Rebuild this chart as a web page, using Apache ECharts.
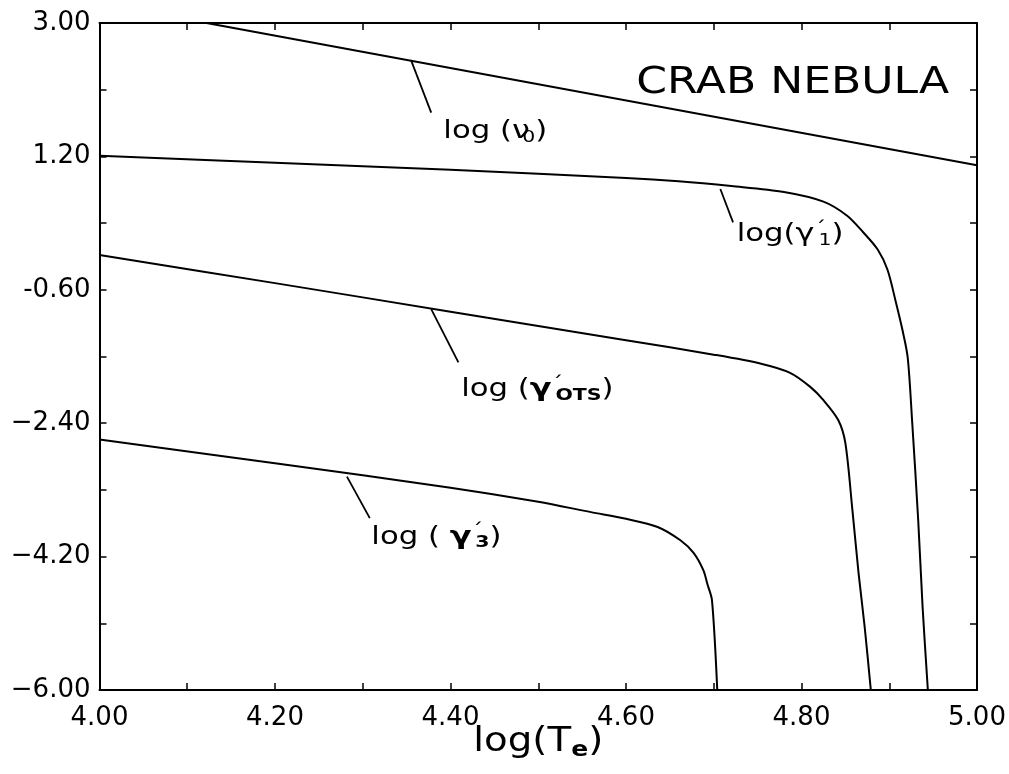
<!DOCTYPE html>
<html>
<head>
<meta charset="utf-8">
<title>Crab Nebula</title>
<script src="https://cdn.jsdelivr.net/npm/echarts@6/dist/echarts.min.js"></script>
<style>
  html, body { margin: 0; padding: 0; background: #fff; }
  #chart { width: 1009px; height: 774px; }
</style>
</head>
<body>
<div id="chart"></div>
<script>
// log(T_e) abscissa and the four curves
const nu0X = [4.122, 5.00];
const nu0Y = [3.00, 1.08];

const gamma1X = [4.00, 4.20, 4.40, 4.60, 4.66, 4.72, 4.78, 4.825, 4.852, 4.870, 4.887, 4.898, 4.907, 4.915, 4.921, 4.926, 4.933, 4.938, 4.944];
const gamma1Y = [1.21, 1.115, 1.02, 0.91, 0.865, 0.80, 0.72, 0.59, 0.40, 0.18, -0.06, -0.33, -0.74, -1.14, -1.51, -2.36, -3.71, -4.88, -6.00];

const gammaOtsX = [4.00, 4.20, 4.40, 4.60, 4.70, 4.755, 4.787, 4.81, 4.825, 4.842, 4.850, 4.858, 4.865, 4.872, 4.879];
const gammaOtsY = [-0.13, -0.51, -0.895, -1.28, -1.475, -1.60, -1.72, -1.91, -2.09, -2.36, -2.67, -3.57, -4.42, -5.15, -6.00];

const gamma3X = [4.00, 4.20, 4.40, 4.50, 4.56, 4.60, 4.636, 4.662, 4.677, 4.688, 4.693, 4.698, 4.704];
const gamma3Y = [-2.62, -2.94, -3.27, -3.46, -3.60, -3.69, -3.80, -3.98, -4.15, -4.38, -4.58, -4.79, -6.00];

// tick labels
const xTickLabels = ['4.00', '4.20', '4.40', '4.60', '4.80', '5.00'];
const yTickLabels = ['\u22126.00', '\u22124.20', '\u22122.40', '-0.60', '1.20', '3.00'];

// curve labels, centred at (labelX, labelY)
const labelX = [4.451, 4.787, 4.499, 4.384];
const labelY = [1.53, 0.14, -1.95, -3.94];
const labelText = [
  '{a|log (}{g|\u03BD}{s|0}{a|)}',
  '{a|log(}{g|\u03B3}{p|\u00B4}{s|1}{a|)}',
  '{a|log (}{gb|\u03B3}{p|\u00B4}{sb|OTS}{a|)}',
  '{a|log ( }{gb|\u03B3}{p|\u00B4}{sb|3}{a|)}'
];

// leader strokes from each label up to its curve
const leaderFromX = [4.355, 4.7075, 4.378, 4.282];
const leaderFromY = [2.50, 0.76, -0.86, -3.12];
const leaderToX = [4.378, 4.722, 4.409, 4.308];
const leaderToY = [1.79, 0.31, -1.58, -3.68];

const titleText = 'CRAB NEBULA';
const titleX = 4.790;
const titleY = 2.19;
const axisTitle = '{a|log(T}{s|e}{a|)}';

const zip = (xs, ys) => xs.map((x, i) => [x, ys[i]]);
const black = '#000';
const font = 'DejaVu Sans';

const curveSeries = [
  [nu0X, nu0Y], [gamma1X, gamma1Y], [gammaOtsX, gammaOtsY], [gamma3X, gamma3Y]
].map(([xs, ys]) => ({
  type: 'line',
  data: zip(xs, ys),
  showSymbol: false,
  smooth: 0.3,
  lineStyle: { color: black, width: 2, join: 'round' },
  silent: true
}));

const leaderSeries = leaderFromX.map((x0, i) => ({
  type: 'line',
  data: [[x0, leaderFromY[i]], [leaderToX[i], leaderToY[i]]],
  showSymbol: false,
  lineStyle: { color: black, width: 1.8 },
  silent: true
}));

const labelRich = {
  a:  { fontSize: 24, fontFamily: font, color: black },
  g:  { fontSize: 25, fontFamily: font, color: black },
  gb: { fontSize: 25, fontFamily: font, fontWeight: 'bold', color: black },
  p:  { fontSize: 18, fontFamily: font, color: black, padding: [0, 0, 12, 0] },
  s:  { fontSize: 16, fontFamily: font, color: black, padding: [12, 0, 0, -6] },
  sb: { fontSize: 16, fontFamily: font, fontWeight: 'bold', color: black, padding: [12, 0, 0, -6] }
};

const tickStyle = { show: true, inside: true, length: 7, lineStyle: { color: black, width: 1.5 } };
const minorStyle = { show: true, splitNumber: 2, length: 7, lineStyle: { color: black, width: 1.5 } };
const axisLineStyle = { show: true, onZero: false, lineStyle: { color: black, width: 2 } };

const xBase = {
  type: 'value', min: 4, max: 5, interval: 0.2,
  axisLine: axisLineStyle, axisTick: tickStyle, minorTick: minorStyle,
  splitLine: { show: false }, minorSplitLine: { show: false }
};
const yBase = {
  type: 'value', min: -6, max: 3, interval: 1.8,
  axisLine: axisLineStyle, axisTick: tickStyle, minorTick: minorStyle,
  splitLine: { show: false }, minorSplitLine: { show: false }
};

const option = {
  backgroundColor: '#fff',
  animation: false,
  grid: { left: 99.5, right: 32, top: 23, bottom: 84, containLabel: false },
  xAxis: [
    Object.assign({}, xBase, {
      position: 'bottom',
      axisLabel: {
        fontSize: 26, fontFamily: font, color: black, margin: 15,
        formatter: v => xTickLabels[Math.round((v - 4) / 0.2)] || ''
      }
    }),
    Object.assign({}, xBase, { position: 'top', axisLabel: { show: false } })
  ],
  yAxis: [
    Object.assign({}, yBase, {
      position: 'left',
      axisLabel: {
        fontSize: 26, fontFamily: font, color: black, margin: 9,
        formatter: v => yTickLabels[Math.round((v + 6) / 1.8)] || ''
      }
    }),
    Object.assign({}, yBase, { position: 'right', axisLabel: { show: false } })
  ],
  series: curveSeries.concat(leaderSeries)
};

const chart = echarts.init(document.getElementById('chart'), null, { renderer: 'canvas' });
chart.setOption(option);

// text placed at data coordinates, widened horizontally like the plotter lettering
const toPx = (x, y) => chart.convertToPixel({ xAxisIndex: 0, yAxisIndex: 0 }, [x, y]);
const graphics = labelX.map((x, i) => {
  const [px, py] = toPx(x, labelY[i]);
  return {
    type: 'text', x: px, y: py, scaleX: 1.28, silent: true,
    style: { text: labelText[i], rich: labelRich, align: 'center', verticalAlign: 'middle' }
  };
});
const [tx, ty] = toPx(titleX, titleY);
graphics.push({
  type: 'text', x: tx, y: ty, scaleX: 1.16, silent: true,
  style: { text: titleText, font: '38px "DejaVu Sans"', fill: black, align: 'center', verticalAlign: 'middle' }
});
const [ax, ay] = toPx(4.5, -6);
graphics.push({
  type: 'text', x: ax, y: ay + 52, scaleX: 1.14, silent: true,
  style: {
    text: axisTitle, align: 'center', verticalAlign: 'middle',
    rich: {
      a: { fontSize: 34, fontFamily: font, color: black },
      s: { fontSize: 22, fontFamily: font, fontWeight: 'bold', color: black, padding: [16, 0, 0, 0] }
    }
  }
});
chart.setOption({ graphic: graphics });
</script>
</body>
</html>
